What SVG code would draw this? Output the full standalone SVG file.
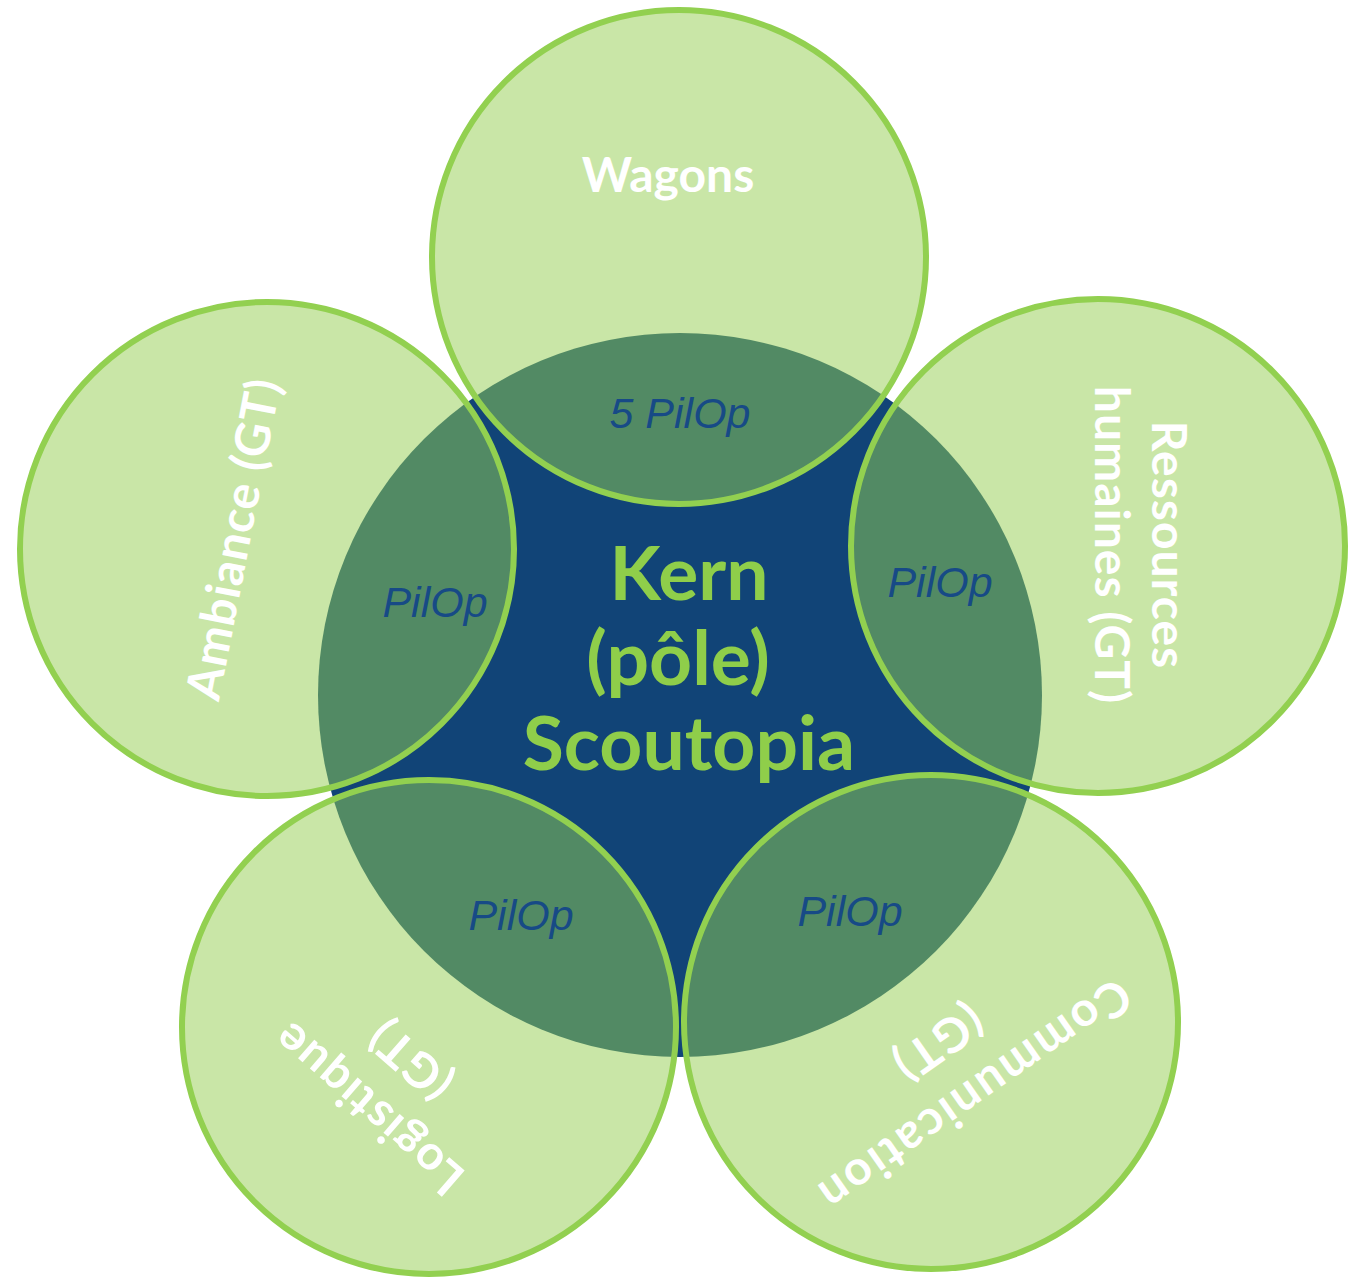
<svg xmlns="http://www.w3.org/2000/svg" width="1349" height="1279" viewBox="0 0 1349 1279">
<style>
.fill{fill:#c9e6a7}
.lens{fill:#528a64}
.ring{fill:none;stroke:#92d050;stroke-width:6}
.lbl{font-family:Lato,"Noto Sans",sans-serif;font-weight:700;font-size:48px;fill:#ffffff;text-anchor:middle}
.pil{font-family:"Liberation Sans",Arial,sans-serif;font-style:italic;font-size:43px;fill:#174a86;text-anchor:middle}
.kern{font-family:Lato,"Noto Sans",sans-serif;font-weight:700;font-size:75px;fill:#8fce4a;text-anchor:middle}
</style>
<defs>
<clipPath id="kernClip"><circle cx="680" cy="695" r="362"/></clipPath>
</defs>
<rect width="1349" height="1279" fill="#ffffff"/>
<g id="kern">
<circle cx="680" cy="695" r="362" fill="#114477"/>
<text class="kern" x="689" y="600">Kern</text>
<text class="kern" x="678" y="685">(pôle)</text>
<text class="kern" x="689" y="770">Scoutopia</text>
</g>
<g id="wagons">
<circle class="fill" cx="679" cy="257" r="247"/>
<circle class="lens" cx="679" cy="257" r="247" clip-path="url(#kernClip)"/>
<circle class="ring" cx="679" cy="257" r="247"/>
<text class="lbl" x="668" y="192">Wagons</text>
<text class="pil" x="680" y="428">5 PilOp</text>
</g>
<g id="ambiance">
<circle class="fill" cx="267" cy="549" r="247"/>
<circle class="lens" cx="267" cy="549" r="247" clip-path="url(#kernClip)"/>
<circle class="ring" cx="267" cy="549" r="247"/>
<text class="lbl" style="letter-spacing:1px" transform="translate(250,542) rotate(-79)">Ambiance (GT)</text>
<text class="pil" x="435" y="617">PilOp</text>
</g>
<g id="ressources">
<circle class="fill" cx="1098" cy="546" r="247"/>
<circle class="lens" cx="1098" cy="546" r="247" clip-path="url(#kernClip)"/>
<circle class="ring" cx="1098" cy="546" r="247"/>
<text class="lbl" style="letter-spacing:1px" transform="translate(1152,545) rotate(90)"><tspan x="0" y="0">Ressources</tspan><tspan x="0" y="57">humaines (GT)</tspan></text>
<text class="pil" x="940" y="597">PilOp</text>
</g>
<g id="logistique">
<circle class="fill" cx="429" cy="1027" r="247"/>
<circle class="lens" cx="429" cy="1027" r="247" clip-path="url(#kernClip)"/>
<circle class="ring" cx="429" cy="1027" r="247"/>
<text class="lbl" style="letter-spacing:1.5px" transform="translate(379,1096) rotate(-139)"><tspan x="0" y="0">Logistique</tspan><tspan x="0" y="64">(GT)</tspan></text>
<text class="pil" x="521" y="930">PilOp</text>
</g>
<g id="communication">
<circle class="fill" cx="931" cy="1022" r="247"/>
<circle class="lens" cx="931" cy="1022" r="247" clip-path="url(#kernClip)"/>
<circle class="ring" cx="931" cy="1022" r="247"/>
<text class="lbl" style="letter-spacing:2.5px" transform="translate(965,1082) rotate(145)"><tspan x="0" y="0">Communication</tspan><tspan x="0" y="64">(GT)</tspan></text>
<text class="pil" x="850" y="926">PilOp</text>
</g>
<g id="connectors"/>
</svg>
